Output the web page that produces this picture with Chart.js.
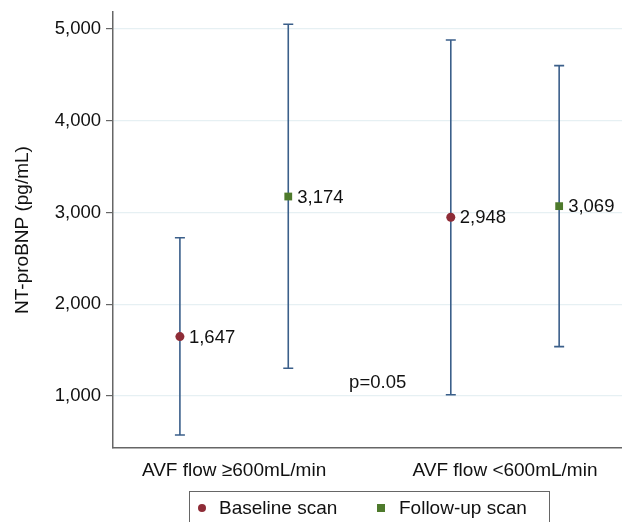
<!DOCTYPE html>
<html>
<head>
<meta charset="utf-8">
<script src="https://cdn.jsdelivr.net/npm/chart.js@4.4.1/dist/chart.umd.min.js"></script>
<style>
  html, body { margin: 0; padding: 0; background: #fff; }
  #wrap { width: 622px; height: 522px; }
</style>
</head>
<body>
<div id="wrap"><canvas id="chart"></canvas></div>
<script>
// groups on the x axis
const groups = ["AVF flow \u2265600mL/min", "AVF flow <600mL/min"];
const seriesNames = ["Baseline scan", "Follow-up scan"];
// means and error bar ends, one per group
const baselineMean = [1647, 2948];
const baselineLow = [575, 1014];
const baselineHigh = [2725, 4880];
const followMean = [3174, 3069];
const followLow = [1302, 1538];
const followHigh = [5051, 4600];
const yTicks = [1000, 2000, 3000, 4000, 5000];
const pText = "p=0.05";
const pPos = [1.53, 1140];

const FONT = "'Liberation Sans', Arial, Helvetica, sans-serif";
const barColor = "#3b5f8a";
const colors = ["#8e2c37", "#4e7a2c"];
const shift = 0.2;

function points(mean, low, high, off) {
  return mean.map((m, i) => ({ x: i + 1 + off, y: m, lo: low[i], hi: high[i] }));
}

const fmt = v => v.toLocaleString("en-US");

// error bars + value labels
const errorBars = {
  id: "errorBars",
  beforeDatasetsDraw(chart) {
    const ctx = chart.ctx;
    const ys = chart.scales.y;
    ctx.save();
    ctx.strokeStyle = barColor;
    ctx.lineWidth = 1.6;
    chart.data.datasets.forEach((ds, di) => {
      const meta = chart.getDatasetMeta(di);
      meta.data.forEach((pt, i) => {
        const d = ds.data[i];
        const top = ys.getPixelForValue(d.hi);
        const bot = ys.getPixelForValue(d.lo);
        ctx.beginPath();
        ctx.moveTo(pt.x, top); ctx.lineTo(pt.x, bot);
        ctx.moveTo(pt.x - 5, top); ctx.lineTo(pt.x + 5, top);
        ctx.moveTo(pt.x - 5, bot); ctx.lineTo(pt.x + 5, bot);
        ctx.stroke();
      });
    });
    ctx.restore();
  },
  afterDatasetsDraw(chart) {
    const ctx = chart.ctx;
    ctx.save();
    ctx.fillStyle = "#111";
    ctx.font = "18.5px " + FONT;
    ctx.textBaseline = "middle";
    chart.data.datasets.forEach((ds, di) => {
      chart.getDatasetMeta(di).data.forEach((pt, i) => {
        ctx.fillText(fmt(ds.data[i].y), pt.x + 9, pt.y + 1);
      });
    });
    // p value note
    const px = chart.scales.x.getPixelForValue(pPos[0]);
    const py = chart.scales.y.getPixelForValue(pPos[1]);
    ctx.textAlign = "center";
    ctx.fillText(pText, px, py);
    ctx.restore();
  }
};

// boxed legend under the axis
const boxLegend = {
  id: "boxLegend",
  afterDraw(chart) {
    const ctx = chart.ctx;
    ctx.save();
    ctx.strokeStyle = "#666";
    ctx.lineWidth = 1;
    ctx.strokeRect(189.5, 491.5, 360, 40);
    ctx.font = "19px " + FONT;
    ctx.textBaseline = "middle";
    ctx.fillStyle = colors[0];
    ctx.beginPath();
    ctx.arc(202, 508, 4, 0, Math.PI * 2);
    ctx.fill();
    ctx.fillStyle = colors[1];
    ctx.fillRect(377, 504, 8, 8);
    ctx.fillStyle = "#111";
    ctx.fillText(chart.data.datasets[0].label, 219, 509);
    ctx.fillText(chart.data.datasets[1].label, 399, 509);
    ctx.restore();
  }
};

new Chart(document.getElementById("chart"), {
  type: "scatter",
  data: {
    datasets: [
      {
        label: seriesNames[0],
        data: points(baselineMean, baselineLow, baselineHigh, -shift),
        pointStyle: "circle",
        pointRadius: 4.5,
        backgroundColor: colors[0],
        borderColor: colors[0],
        borderWidth: 0
      },
      {
        label: seriesNames[1],
        data: points(followMean, followLow, followHigh, shift),
        pointStyle: "rect",
        pointRadius: 5.5,
        backgroundColor: colors[1],
        borderColor: colors[1],
        borderWidth: 0
      }
    ]
  },
  options: {
    responsive: true,
    maintainAspectRatio: false,
    animation: false,
    layout: { autoPadding: false, padding: { top: 12, left: 0, right: 0, bottom: 0 } },
    plugins: {
      legend: { display: false },
      tooltip: { enabled: false }
    },
    scales: {
      x: {
        type: "linear",
        min: 0.553,
        max: 2.432,
        afterBuildTicks: s => { s.ticks = groups.map((g, i) => ({ value: i + 1 })); },
        afterFit: s => { s.height = 74; s.paddingLeft = 0; s.paddingRight = 0; },
        grid: { display: false },
        border: { color: "#666", width: 1.5 },
        ticks: {
          color: "#111",
          font: { family: FONT, size: 19 },
          padding: 3,
          callback: v => groups[Math.round(v) - 1]
        }
      },
      y: {
        min: 433,
        max: 5185,
        afterBuildTicks: s => { s.ticks = yTicks.map(v => ({ value: v })); },
        afterFit: s => { s.width = 113; s.paddingTop = 0; s.paddingBottom = 0; },
        grid: { color: "#e6f0f3", lineWidth: 1.2, tickColor: "#666", tickLength: 7 },
        border: { color: "#666", width: 1.5 },
        ticks: {
          color: "#111",
          font: { family: FONT, size: 18.5 },
          padding: 5,
          callback: v => fmt(v)
        },
        title: {
          display: true,
          text: "NT-proBNP (pg/mL)",
          color: "#111",
          font: { family: FONT, size: 19 },
          padding: { top: 11, bottom: 0 }
        }
      }
    }
  },
  plugins: [errorBars, boxLegend]
});
</script>
</body>
</html>
